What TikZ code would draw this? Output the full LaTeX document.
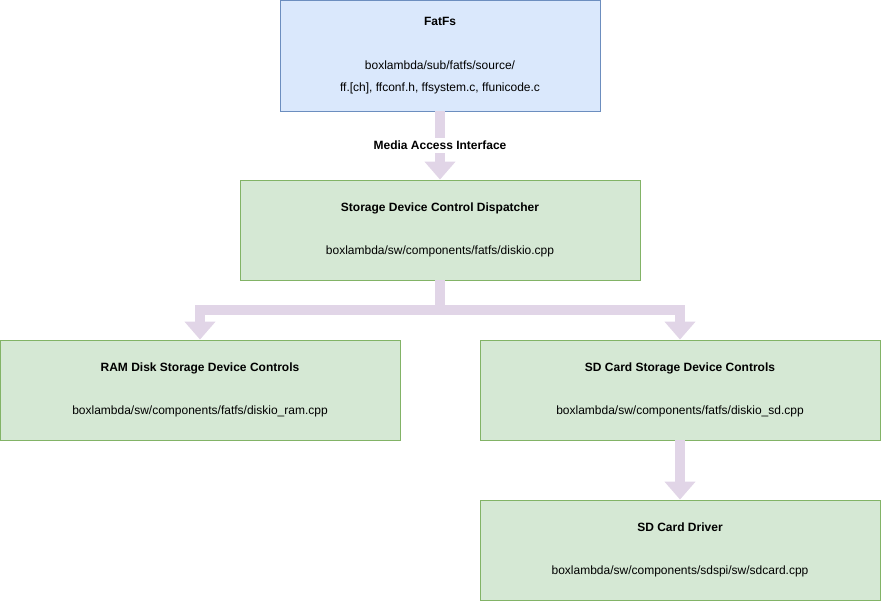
\documentclass[tikz,border=0pt]{standalone}
\usepackage{fontspec}
\setmainfont{Liberation Sans}
\usetikzlibrary{arrows.meta}
\definecolor{blueFill}{HTML}{DAE8FC}
\definecolor{blueLine}{HTML}{6C8EBF}
\definecolor{greenFill}{HTML}{D5E8D4}
\definecolor{greenLine}{HTML}{82B366}
\definecolor{flowPurple}{HTML}{E1D5E7}
\tikzset{
  box/.style={draw, line width=0.8pt, minimum width=400pt, minimum height=100pt,
    align=center, inner sep=0pt, font=\fontsize{12}{22}\selectfont},
  flow/.style={draw=flowPurple, line width=10pt,
    -{Triangle[width=30pt,length=18pt]}}
}
\begin{document}
\begin{tikzpicture}[x=1pt,y=-1pt]
  \useasboundingbox (0,0) rectangle (881,601);
  \node[box, fill=blueFill, draw=blueLine, minimum width=320pt, minimum height=111pt] (fat) at (440,55.5)
    {\textbf{FatFs}\\[22pt] boxlambda/sub/fatfs/source/\\ ff.[ch], ffconf.h, ffsystem.c, ffunicode.c};
  \node[box, fill=greenFill, draw=greenLine] (disp) at (440,230)
    {\textbf{Storage Device Control Dispatcher}\\[21pt] boxlambda/sw/components/fatfs/diskio.cpp};
  \node[box, fill=greenFill, draw=greenLine] (ram) at (200,390)
    {\textbf{RAM Disk Storage Device Controls}\\[21pt] boxlambda/sw/components/fatfs/diskio\_ram.cpp};
  \node[box, fill=greenFill, draw=greenLine] (sd) at (680,390)
    {\textbf{SD Card Storage Device Controls}\\[21pt] boxlambda/sw/components/fatfs/diskio\_sd.cpp};
  \node[box, fill=greenFill, draw=greenLine] (drv) at (680,550)
    {\textbf{SD Card Driver}\\[21pt] boxlambda/sw/components/sdspi/sw/sdcard.cpp};
  % connectors
  \draw[flow] (fat.south) -- (disp.north)
    node[midway, fill=white, font=\bfseries\fontsize{12}{14}\selectfont, inner sep=3pt] {Media Access Interface};
  \draw[flow] (disp.south) -- ++(0,30) -| (ram.north);
  \draw[flow] (disp.south) -- ++(0,30) -| (sd.north);
  \draw[flow] (sd.south) -- (drv.north);
\end{tikzpicture}
\end{document}
